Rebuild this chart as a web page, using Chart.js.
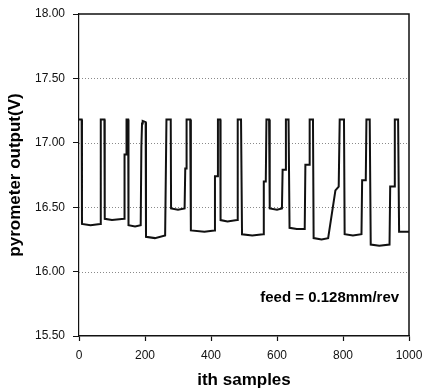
<!DOCTYPE html>
<html>
<head>
<meta charset="utf-8">
<script src="https://cdn.jsdelivr.net/npm/chart.js@4.4.1/dist/chart.umd.min.js"></script>
<style>
  html, body { margin: 0; padding: 0; background: #fff; }
  #wrap { width: 423px; height: 391px; position: relative; }
</style>
</head>
<body>
<div id="wrap"><canvas id="c" width="423" height="391"></canvas></div>
<script>
// Sample index (x) and pyrometer output in volts (y) at the vertices of the trace
const sampleIndex = [
  0, 8, 9, 35, 64, 66, 77, 78, 100, 137, 138, 143, 144, 149, 150, 170, 187, 189, 191, 193, 202,
  203, 230, 261, 265, 278, 279, 300, 320, 322, 325, 326, 337, 339, 380, 410, 412, 419, 421, 428,
  429, 450, 479, 481, 491, 494, 525, 558, 560, 566, 568, 576, 578, 600, 615, 617, 625, 627, 635,
  638, 660, 684, 686, 697, 699, 709, 711, 735, 755, 777, 787, 790, 803, 805, 830, 856, 858, 869,
  871, 881, 884, 910, 941, 943, 955, 957, 967, 970, 1000
];
const pyrometerV = [
  17.18, 17.18, 16.37, 16.36, 16.37, 17.18, 17.18, 16.41, 16.40, 16.41, 16.91, 16.91, 17.18, 17.18, 16.36, 16.35, 16.36, 16.97, 17.15, 17.17, 17.16,
  16.27, 16.26, 16.28, 17.18, 17.18, 16.49, 16.48, 16.49, 16.80, 16.80, 17.18, 17.18, 16.32, 16.31, 16.32, 16.74, 16.74, 17.18, 17.18,
  16.40, 16.39, 16.40, 17.18, 17.18, 16.29, 16.28, 16.29, 16.70, 16.70, 17.18, 17.18, 16.49, 16.48, 16.49, 16.79, 16.79, 17.18, 17.18,
  16.34, 16.33, 16.33, 16.83, 16.83, 17.18, 17.18, 16.26, 16.25, 16.26, 16.63, 16.66, 17.18, 17.18, 16.29, 16.28, 16.29, 16.71, 16.71,
  17.18, 17.18, 16.21, 16.20, 16.21, 16.66, 16.66, 17.18, 17.18, 16.31, 16.31
];
const xTickStep = 200;
const yTickValues = [15.5, 16.0, 16.5, 17.0, 17.5, 18.0];
const gridValues = [16.0, 16.5, 17.0, 17.5];
const annotationText = "feed = 0.128mm/rev";
const annotationAt = { x: 970, y: 15.80 };

const points = sampleIndex.map((s, i) => ({ x: s, y: pyrometerV[i] }));

const framePlugin = {
  id: 'frame',
  beforeDatasetsDraw(chart) {
    const { ctx, chartArea: a, scales: { x, y } } = chart;
    ctx.save();
    ctx.strokeStyle = '#8a8a8a';
    ctx.lineWidth = 1;
    ctx.setLineDash([1, 2]);
    gridValues.forEach(v => {
      const py = Math.round(y.getPixelForValue(v)) + 0.5;
      ctx.beginPath();
      ctx.moveTo(a.left, py);
      ctx.lineTo(a.right, py);
      ctx.stroke();
    });
    ctx.restore();
  },
  afterDatasetsDraw(chart) {
    const { ctx, chartArea: a, scales: { x, y } } = chart;
    ctx.save();
    ctx.strokeStyle = '#111';
    ctx.lineWidth = 1.5;
    ctx.beginPath();
    ctx.moveTo(a.left, y.getPixelForValue(18));
    ctx.lineTo(x.getPixelForValue(1000), y.getPixelForValue(18));
    ctx.lineTo(x.getPixelForValue(1000), a.bottom);
    ctx.stroke();
    ctx.fillStyle = '#000';
    ctx.font = 'bold 15px "Liberation Sans", Arial, sans-serif';
    ctx.textAlign = 'right';
    ctx.textBaseline = 'middle';
    ctx.fillText(annotationText, x.getPixelForValue(annotationAt.x), y.getPixelForValue(annotationAt.y));
    ctx.restore();
  }
};

new Chart(document.getElementById('c'), {
  type: 'line',
  data: {
    datasets: [{
      data: points,
      borderColor: '#111',
      borderWidth: 2,
      pointRadius: 0,
      tension: 0,
      fill: false
    }]
  },
  options: {
    responsive: false,
    animation: false,
    layout: { padding: { top: 14, right: 14, left: 0, bottom: 0 } },
    plugins: { legend: { display: false }, tooltip: { enabled: false } },
    scales: {
      x: {
        type: 'linear',
        min: 0, max: 1000,
        ticks: {
          stepSize: xTickStep,
          color: '#111',
          padding: 7,
          maxRotation: 0,
          callback: v => String(v),
          font: { family: '"Liberation Sans", Arial, sans-serif', size: 12 }
        },
        grid: { drawOnChartArea: false, drawTicks: true, tickLength: 5, tickColor: '#111', tickWidth: 1.2 },
        border: { display: true, color: '#111', width: 1.5 },
        title: {
          display: true, text: 'ith samples', color: '#000',
          font: { family: '"Liberation Sans", Arial, sans-serif', size: 17, weight: 'bold' },
          padding: { top: 0, bottom: 0 }
        },
        afterFit(s) { s.height = 55; s.paddingLeft = 0; s.paddingRight = 0; }
      },
      y: {
        type: 'linear',
        min: 15.5, max: 18,
        afterBuildTicks(s) { s.ticks = yTickValues.map(v => ({ value: v })); },
        ticks: {
          color: '#111',
          padding: 8,
          callback: v => Number(v).toFixed(2),
          font: { family: '"Liberation Sans", Arial, sans-serif', size: 12 }
        },
        grid: { drawOnChartArea: false, drawTicks: true, tickLength: 6, tickColor: '#111', tickWidth: 1 },
        border: { display: true, color: '#111', width: 1.2 },
        title: {
          display: true, text: 'pyrometer output(V)', color: '#000',
          font: { family: '"Liberation Sans", Arial, sans-serif', size: 17, weight: 'bold' },
          padding: { top: 5, bottom: 0 }
        },
        afterFit(s) { s.width = 79; s.paddingTop = 0; s.paddingBottom = 0; }
      }
    }
  },
  plugins: [framePlugin]
});
</script>
</body>
</html>
